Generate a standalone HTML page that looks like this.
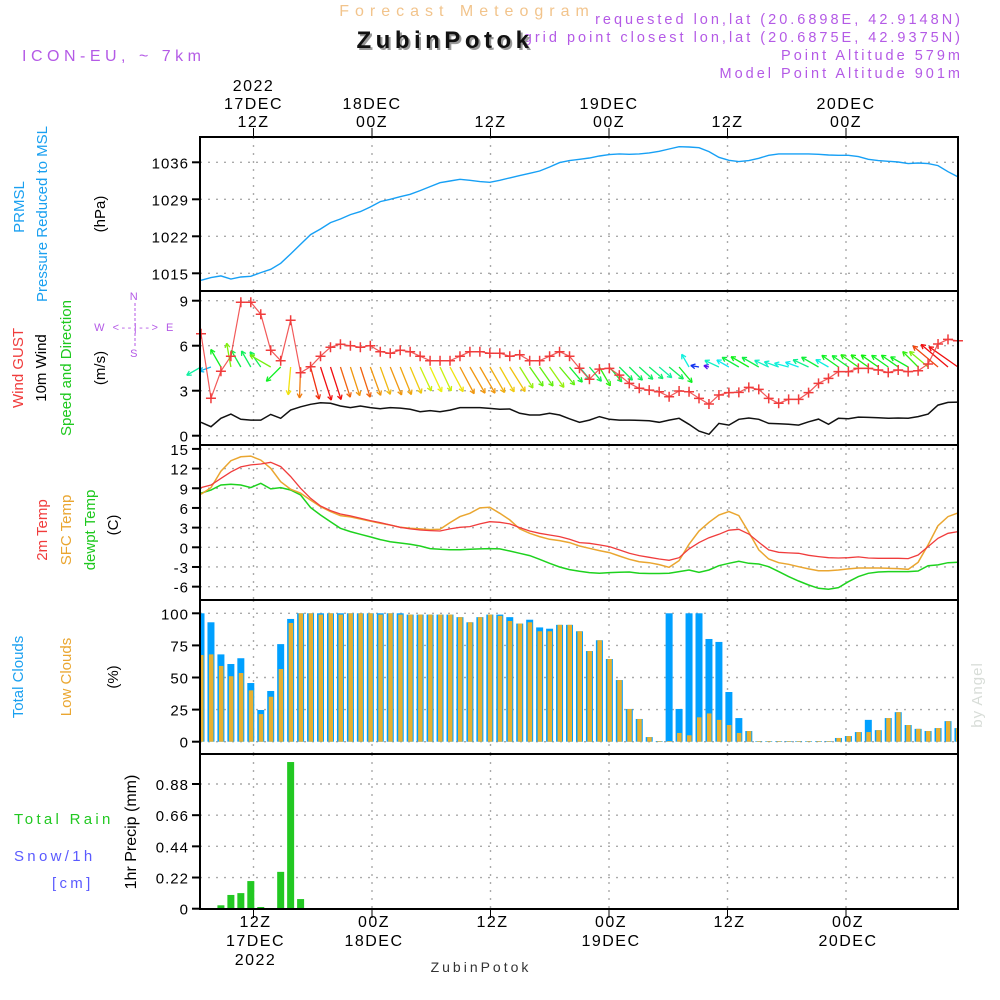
<!DOCTYPE html>
<html><head><meta charset="utf-8"><style>
body{margin:0;background:#fff}
svg{display:block}
text{font-family:"Liberation Sans",sans-serif}
</style></head><body>
<svg id="chart" width="1000" height="1000" viewBox="0 0 1000 1000" xmlns="http://www.w3.org/2000/svg">
<rect width="1000" height="1000" fill="#fff"/>
<g id="grid"></g><g id="marks"></g><g id="frame"></g><g id="labels"></g>
<text x="467" y="16" text-anchor="middle" font-size="16" fill="#f2c48c" letter-spacing="6">Forecast Meteogram</text>
<text x="963" y="24" text-anchor="end" font-size="14.5" fill="#b45ae6" letter-spacing="3">requested lon,lat (20.6898E, 42.9148N)</text>
<text x="963" y="42" text-anchor="end" font-size="14.5" fill="#b45ae6" letter-spacing="3">grid point closest lon,lat (20.6875E, 42.9375N)</text>
<text x="447" y="50" text-anchor="middle" font-size="24" font-weight="bold" fill="#999" letter-spacing="4.5">ZubinPotok</text>
<text x="445" y="48" text-anchor="middle" font-size="24" font-weight="bold" fill="#111" letter-spacing="4.5">ZubinPotok</text>
<text x="22" y="61" font-size="16" fill="#b45ae6" letter-spacing="4.5">ICON-EU, ~ 7km</text>
<text x="963" y="60" text-anchor="end" font-size="14.5" fill="#b45ae6" letter-spacing="3">Point Altitude 579m</text>
<text x="963" y="78" text-anchor="end" font-size="14.5" fill="#b45ae6" letter-spacing="3">Model Point Altitude 901m</text>
<text x="481" y="972" text-anchor="middle" font-size="14" font-family="Liberation Serif, serif" fill="#333" letter-spacing="3">ZubinPotok</text>
<text transform="translate(982,695) rotate(-90)" text-anchor="middle" font-size="15" font-family="Liberation Serif, serif" fill="#d8ddd8" letter-spacing="1">by Angel</text>
</svg>
<script>
// ---- data (hourly, index 0..76) ----
const pressure=[1013.68,1014.18,1014.5,1013.93,1014.31,1014.44,1015.13,1015.76,1016.9,1018.66,1020.49,1022.32,1023.39,1024.59,1025.28,1026.1,1026.67,1027.55,1028.56,1029.0,1029.5,1029.95,1030.64,1031.4,1032.15,1032.47,1032.78,1032.6,1032.34,1032.22,1032.6,1033.04,1033.48,1033.92,1034.36,1035.12,1035.94,1036.32,1036.57,1036.82,1037.2,1037.45,1037.58,1037.51,1037.58,1037.77,1038.08,1038.52,1038.96,1038.9,1038.77,1038.02,1036.95,1036.38,1036.13,1036.32,1036.76,1037.32,1037.58,1037.58,1037.58,1037.58,1037.51,1037.39,1037.32,1037.32,1037.07,1036.57,1036.32,1036.19,1036.06,1035.75,1035.87,1035.75,1035.37,1034.23,1033.23];
const windGust=[6.8,2.5,4.3,5.3,8.9,8.9,8.1,5.7,5.0,7.7,4.2,4.6,5.3,5.9,6.1,6.0,5.9,6.0,5.6,5.5,5.7,5.6,5.3,5.0,5.0,5.0,5.3,5.6,5.6,5.5,5.5,5.3,5.4,5.0,5.0,5.3,5.6,5.3,4.5,3.76,4.44,4.49,4.04,3.49,3.16,3.04,2.93,2.6,2.98,2.93,2.49,2.11,2.71,2.87,2.89,3.22,3.09,2.49,2.16,2.42,2.42,2.87,3.49,3.82,4.27,4.27,4.49,4.49,4.38,4.22,4.38,4.27,4.33,4.78,6.11,6.42,6.33];
const windSpeed=[0.89,0.6,1.16,1.44,1.09,1.04,1.04,1.42,1.16,1.71,1.93,2.09,2.2,2.16,1.98,1.87,1.98,1.87,1.8,1.87,1.84,1.76,1.6,1.67,1.6,1.71,1.87,1.87,1.87,1.82,1.76,1.78,1.49,1.38,1.38,1.49,1.38,1.13,0.89,1.04,1.27,1.09,1.04,1.04,1.02,1.0,0.89,1.04,1.16,0.76,0.31,0.09,0.82,0.71,1.09,1.18,1.09,0.82,0.8,0.76,0.71,0.93,1.11,0.76,1.16,1.13,1.24,1.22,1.2,1.16,1.18,1.16,1.27,1.44,2.04,2.22,2.24];
const windDir=[240,250,330,350,330,330,325,300,225,185,182,165,162,162,162,162,162,160,160,158,158,157,155,155,155,152,152,150,150,150,150,148,148,145,145,145,140,140,140,140,150,140,135,135,132,130,130,130,140,330,280,285,295,300,300,300,300,295,290,285,290,295,300,300,305,305,305,305,305,305,305,300,315,310,310,310,305];
const temp2m=[9.1,9.5,10.5,11.5,12.25,12.56,12.7,12.96,12.3,10.8,9.0,7.47,6.3,5.6,5.08,4.78,4.42,4.07,3.76,3.4,3.05,2.8,2.64,2.54,2.49,2.8,3.05,3.15,3.56,3.91,3.81,3.56,3.0,2.49,2.14,1.88,1.63,1.22,0.71,0.61,0.36,0.1,-0.4,-0.92,-1.27,-1.53,-1.78,-1.98,-1.58,-0.25,0.71,1.47,1.98,2.6,2.75,2.03,0.76,-0.4,-0.76,-0.86,-0.92,-1.22,-1.42,-1.58,-1.63,-1.58,-1.47,-1.63,-1.68,-1.68,-1.68,-1.73,-1.17,0.1,1.37,2.14,2.39];
const tempSfc=[8.1,9.1,11.6,13.2,13.8,13.9,13.3,12.05,10.0,8.85,8.24,7.2,6.2,5.44,4.83,4.63,4.32,4.0,3.66,3.4,3.05,2.9,2.8,2.7,2.75,3.76,4.68,5.19,6.0,6.1,5.19,4.17,2.8,2.14,1.63,1.22,1.02,0.71,0.2,-0.15,-0.5,-0.81,-1.32,-1.83,-2.19,-2.34,-2.64,-3.05,-2.03,0.46,2.49,3.81,4.93,5.44,4.83,2.29,-0.4,-1.78,-2.34,-2.59,-2.95,-3.3,-3.56,-3.56,-3.46,-3.3,-3.15,-3.15,-3.15,-3.2,-3.25,-3.35,-2.29,0.36,3.3,4.68,5.24];
const dewpt=[8.24,8.74,9.5,9.6,9.5,9.1,9.76,8.9,9.1,8.74,7.98,6.05,4.93,3.91,2.9,2.39,1.98,1.58,1.17,0.86,0.66,0.46,0.2,-0.2,-0.3,-0.36,-0.36,-0.3,-0.25,-0.2,-0.25,-0.56,-0.92,-1.27,-1.83,-2.44,-3.0,-3.4,-3.66,-3.86,-3.96,-3.86,-3.81,-3.76,-3.96,-4.0,-4.0,-3.96,-3.71,-3.46,-3.81,-3.46,-2.8,-2.44,-2.14,-2.44,-2.54,-2.95,-3.71,-4.47,-5.13,-5.74,-6.25,-6.4,-6.15,-5.24,-4.47,-3.96,-3.76,-3.71,-3.71,-3.71,-3.61,-2.8,-2.69,-2.34,-2.29];
const totalClouds=[100,93,68,60.5,65,45.7,24.7,39.5,76,95.6,100,100,100,100,100,100,100,100,100,100,100,99,99,99,99,99,97,93,97,99,99,97,92,95,89,88,91,91,86,70.6,79,64.4,48,25.5,17.7,3.6,0.5,100,25.5,100,100,80,77.7,38.7,18.4,8.3,0.5,0.5,0.5,0.5,0.5,0.5,0.5,0.5,2.9,4.4,7.5,17,9,18.4,23,13,10,8.3,10.6,16,10.6];
const lowClouds=[67.5,68,59,51,53.5,40,21.5,35,56.6,92.5,100,100,99,100,99,100,100,100,99,100,99,99,99,99,99,99,97,93,97,99,98,94,92,93,86,86,91,91,86,70.6,79,64.4,48,25.5,17.7,3.6,0.5,0.5,6.8,5,19,22,17,13,6.8,8.3,0.5,0.5,0.5,0.5,0.5,0.5,0.5,0.5,2.9,4.4,7.5,7.5,9,18.4,23,13,10,8.3,10.6,16,10.6];
const precip=[0,0.005,0.024,0.097,0.11,0.195,0.012,0,0.26,1.035,0.068,0,0,0,0,0,0,0,0,0,0,0,0,0,0,0,0,0,0,0,0,0,0,0,0,0,0,0,0,0,0,0,0,0,0,0,0,0,0,0,0,0,0,0,0,0,0,0,0,0,0,0,0,0,0,0,0,0,0,0,0,0,0,0,0,0,0];
const pressTicks=[1015,1022,1029,1036];
const windTicks=[0,3,6,9];
const tempTicks=[-6,-3,0,3,6,9,12,15];
const cloudTicks=[0,25,50,75,100];
const precipTicks=[0,0.22,0.44,0.66,0.88];
const timeHours=[0,12,24,36,48,60];
const topTimeLabels=[["2022","17DEC","12Z"],["","18DEC","00Z"],["","","12Z"],["","19DEC","00Z"],["","","12Z"],["","20DEC","00Z"]];
const botTimeLabels=[["12Z","17DEC","2022"],["00Z","18DEC",""],["12Z","",""],["00Z","19DEC",""],["12Z","",""],["00Z","20DEC",""]];

// ---- scales ----
const L=200,R=958;
const xi=i=>201+9.96*i;
const xt=h=>253.5+9.875*h;
const yP=v=>162.3-(v-1036)*5.286;
const yW=v=>435.7-15*v;
const yT=v=>547.3-6.56*v;
const yC=v=>741.7-1.284*v;
const yR=v=>908.7-141.7*v;
const panels=[{t:137,b:291},{t:291,b:445},{t:445,b:600},{t:600,b:754},{t:754,b:909}];
const NS="http://www.w3.org/2000/svg";
function el(tag,attrs,parent,txt){const e=document.createElementNS(NS,tag);for(const k in attrs)e.setAttribute(k,attrs[k]);if(txt!==undefined)e.textContent=txt;parent.appendChild(e);return e;}
const grid=document.getElementById('grid'),marks=document.getElementById('marks'),frame=document.getElementById('frame'),labels=document.getElementById('labels');

// grid
function hgrid(ticks,ys,name){ticks.forEach(t=>{const y=ys(t);const g=el('line',{x1:L,x2:R,y1:y,y2:y,stroke:'#aaa','stroke-dasharray':'2,6','stroke-width':1.4},grid);


const tk=el('line',{x1:L-8,x2:L,y1:y,y2:y,stroke:'#000','stroke-width':2},frame);


const lb=el('text',{x:189,y:y+6,'text-anchor':'end','font-size':15,fill:'#000','letter-spacing':1},labels,String(t));

});}
hgrid(pressTicks,yP,'pressure');hgrid(windTicks,yW,'wind');hgrid(tempTicks,yT,'temp');hgrid(cloudTicks,yC,'cloud');hgrid(precipTicks,yR,'precip');
timeHours.forEach(h=>{const x=xt(h);panels.forEach(p=>{const g=el('line',{x1:x,x2:x,y1:p.t,y2:p.b,stroke:'#aaa','stroke-dasharray':'2,6','stroke-width':1.4},grid);

});
[[128,137],[909,918]].forEach(s=>{const t=el('line',{x1:x,x2:x,y1:s[0],y2:s[1],stroke:'#000','stroke-width':1},frame);

});});
timeHours.forEach((h,k)=>{const x=xt(h);topTimeLabels[k].forEach((s,j)=>{if(!s)return;const t=el('text',{x:x,y:91+j*18,'text-anchor':'middle','font-size':16,fill:'#000','letter-spacing':1.5},labels,s);

});
botTimeLabels[k].forEach((s,j)=>{if(!s)return;const t=el('text',{x:x+2,y:927+j*19,'text-anchor':'middle','font-size':16,fill:'#000','letter-spacing':1.5},labels,s);

});});

// lines
function line(arr,ys,color,name,w){const d=arr.map((v,i)=>(i?'L':'M')+xi(i).toFixed(1)+','+ys(v).toFixed(1)).join('');const p=el('path',{d:d,fill:'none',stroke:color,'stroke-width':w||1.4},marks);

return p;}
line(pressure,yP,'#17a0f5','pressure-line');

// wind arrows
windDir.forEach((a,i)=>{const s=windSpeed[i];const len=4+14*s;const r=a*Math.PI/180;const x0=xi(i),y0=367;const x1=x0+len*Math.sin(r),y1=y0-len*Math.cos(r);
const hue=Math.max(0,Math.min(285,270-s*125));const c='hsl('+hue+',88%,50%)';
const g=el('g',{stroke:c,'stroke-width':1.3,fill:'none'},marks);


el('line',{x1:x0,y1:y0,x2:x1,y2:y1},g);
const hl=5,ang=Math.atan2(y1-y0,x1-x0);
[0.5,-0.5].forEach(o=>el('line',{x1:x1,y1:y1,x2:x1-hl*Math.cos(ang+o),y2:y1-hl*Math.sin(ang+o)},g));});
line(windSpeed,yW,'#111','wind-speed-line',1.5);
const gl=line(windGust,yW,'#f03c3c','wind-gust-line',1.2);gl.setAttribute('opacity','0.85');
windGust.forEach((v,i)=>{const x=xi(i),y=yW(v);const c=el('path',{d:`M${x-5},${y}H${x+5}M${x},${y-5}V${y+5}`,stroke:'#f03c3c','stroke-width':1.5},marks);

});

// temps
line(dewpt,yT,'#1ed21e','dewpoint-line',1.5);
line(tempSfc,yT,'#eaa630','sfc-temp-line',1.5);
line(temp2m,yT,'#f03c3c','temp-2m-line',1.3);

// clouds
totalClouds.forEach((v,i)=>{let x=xi(i)-3.5,w=7;if(x<L){w-=L-x;x=L;}if(x+w>R)w=R-x;if(w<=0)return;
const b=el('rect',{x:x,y:yC(v),width:w,height:yC(0)-yC(v),fill:'#00a0ff'},marks);

});
lowClouds.forEach((v,i)=>{let x=xi(i)-2,w=4.5;if(x<L){w-=L-x;x=L;}if(x+w>R)w=R-x;if(w<=0)return;
const b=el('rect',{x:x,y:yC(v),width:w,height:yC(0)-yC(v),fill:'#e8b030'},marks);

});

// precip
precip.forEach((v,i)=>{if(v<=0)return;const b=el('rect',{x:xi(i)-3.5,y:yR(v),width:7,height:yR(0)-yR(v),fill:'#22c822'},marks);

});

// frames
panels.forEach(p=>{const r=el('rect',{x:L,y:p.t,width:R-L,height:p.b-p.t,fill:'none',stroke:'#000','stroke-width':2},frame);

});

// left side labels
function vlab(x,yc,txt,color,name,size){const t=el('text',{transform:`translate(${x},${yc}) rotate(-90)`,'text-anchor':'middle','font-size':size||15,fill:color},labels,txt);

}
vlab(24,207,'PRMSL','#1aa0f0','prmsl-label');
vlab(47,214,'Pressure Reduced to MSL','#1aa0f0','pressure-title');
vlab(105,214,'(hPa)','#000','pressure-unit');
vlab(23,368,'Wind GUST','#f03c3c','gust-title');
vlab(46,368,'10m Wind','#000','wind-title');
vlab(71,368,'Speed and Direction','#1ec81e','wind-direction-title');
vlab(105,368,'(m/s)','#000','wind-unit');
vlab(47,530,'2m Temp','#f03c3c','temp-2m-title');
vlab(71,530,'SFC Temp','#eaa630','sfc-temp-title');
vlab(95,530,'dewpt Temp','#1ec81e','dewpt-title');
vlab(118,525,'(C)','#000','temp-unit');
vlab(23,677,'Total Clouds','#1aa0f0','total-clouds-title');
vlab(71,677,'Low Clouds','#eaa630','low-clouds-title');
vlab(118,677,'(%)','#000','cloud-unit');
vlab(136,832,'1hr Precip (mm)','#000','precip-title',16);
[['Total   Rain',14,824,'#22c822','rain-legend'],['Snow/1h',14,861,'#5a5aff','snow-legend'],['[cm]',52,888,'#5a5aff','snow-unit']].forEach(a=>{const t=el('text',{x:a[1],y:a[2],'font-size':15,fill:a[3],'letter-spacing':3.3,'xml:space':'preserve'},labels,a[0]);

});
// compass
[['N',135,300],['W <--|--> E',135,331],['S',135,357]].forEach(a=>{const t=el('text',{x:a[1],y:a[2],'text-anchor':'middle','font-size':11,fill:'#b45ae6','letter-spacing':2.5,'xml:space':'preserve'},labels,a[0]);

});
const cl=el('line',{x1:135,x2:135,y1:303,y2:347,stroke:'#b45ae6','stroke-width':1,'stroke-dasharray':'3,2'},labels);


</script>
</body></html>
